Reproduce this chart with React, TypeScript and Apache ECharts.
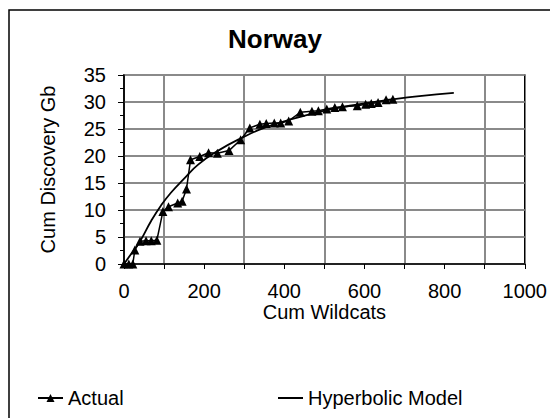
import React, { useEffect, useRef } from "react";
import * as echarts from "echarts";

const actualX = [0, 12, 22, 27, 40, 55, 68, 82, 97, 111, 134, 145, 156, 166, 189, 211, 233, 262, 291, 314, 339, 355, 375, 391, 411, 440, 469, 485, 506, 526, 545, 582, 603, 617, 634, 654, 671];
const actualY = [0, 0, 0, 2.6, 4.2, 4.3, 4.3, 4.4, 9.7, 10.6, 11.3, 11.6, 13.9, 19.3, 19.9, 20.6, 20.5, 21.0, 23.0, 25.2, 25.9, 26.0, 26.1, 26.1, 26.5, 28.1, 28.3, 28.4, 28.7, 29.0, 29.1, 29.3, 29.6, 29.7, 29.9, 30.4, 30.5];

const modelX = [0, 20, 40, 68, 92, 117, 150, 185, 233, 295, 353, 423, 506, 588, 671, 737, 823];
const modelY = [0, 2.1, 4.2, 8.0, 10.8, 13.2, 15.8, 18.4, 20.9, 23.4, 25.3, 26.9, 28.5, 29.6, 30.5, 31.1, 31.7];

const FONT = "'Liberation Sans', Arial, sans-serif";

export default function App() {
  const ref = useRef<HTMLDivElement>(null);
  useEffect(() => {
    document.body.style.margin = "0";
    const chart = echarts.init(ref.current!, null, { renderer: "svg" });
    const actualData = actualX.map((x, i) => [x, actualY[i]]);
    const modelData = modelX.map((x, i) => [x, modelY[i]]);
    chart.setOption({
      animation: false,
      backgroundColor: "#fff",
      textStyle: { fontFamily: FONT, color: "#000" },
      title: {
        text: "Norway",
        left: 270,
        top: 21,
        textAlign: "center",
        textStyle: { fontFamily: FONT, fontSize: 26, fontWeight: "bold", color: "#000" },
      },
      graphic: [
        {
          type: "rect",
          shape: { x: 9, y: 10, width: 600, height: 500 },
          style: { fill: "none", stroke: "#000", lineWidth: 1.5 },
          silent: true,
        },
      ],
      legend: [
        {
          data: ["Actual"],
          left: 32,
          top: 383,
          itemWidth: 25,
          itemHeight: 10,
          itemGap: 6,
          textStyle: { fontFamily: FONT, fontSize: 20, color: "#000" },
        },
        {
          data: [{ name: "Hyperbolic Model", icon: "rect" }],
          left: 273,
          top: 383,
          itemWidth: 25,
          itemHeight: 2,
          textStyle: { fontFamily: FONT, fontSize: 20, color: "#000" },
        },
      ],
      grid: {
        left: 124,
        right: 22,
        top: 75,
        bottom: 154,
        show: true,
        borderColor: "#000",
        borderWidth: 1.5,
        containLabel: false,
      },
      xAxis: {
        type: "value",
        min: 0,
        max: 1000,
        interval: 200,
        name: "Cum Wildcats",
        nameLocation: "middle",
        nameGap: 38,
        nameTextStyle: { fontFamily: FONT, fontSize: 20, color: "#000" },
        axisLine: { show: true, onZero: false, lineStyle: { color: "#000", width: 1.5 } },
        axisTick: { show: true, length: 5, lineStyle: { color: "#000" } },
        minorTick: { show: true, splitNumber: 2, length: 5, lineStyle: { color: "#000" } },
        minorSplitLine: { show: true, lineStyle: { color: "#8a8a8a", width: 2 } },
        splitLine: { show: false },
        axisLabel: {
          fontFamily: FONT,
          fontSize: 20,
          color: "#000",
          margin: 17,
          formatter: (v: number) => String(v),
        },
      },
      yAxis: {
        type: "value",
        min: 0,
        max: 35,
        interval: 5,
        name: "Cum Discovery Gb",
        nameLocation: "middle",
        nameGap: 66,
        nameTextStyle: { fontFamily: FONT, fontSize: 20, color: "#000" },
        axisLine: { show: true, lineStyle: { color: "#000", width: 1.5 } },
        axisTick: { show: true, length: 6, lineStyle: { color: "#000" } },
        minorTick: { show: true, splitNumber: 2, length: 4, lineStyle: { color: "#000" } },
        splitLine: { show: true, lineStyle: { color: "#8a8a8a", width: 2 } },
        axisLabel: { fontFamily: FONT, fontSize: 20, color: "#000", margin: 18 },
      },
      series: [
        {
          name: "Actual",
          type: "line",
          data: actualData,
          symbol: "triangle",
          symbolSize: 9,
          showSymbol: true,
          itemStyle: { color: "#000" },
          lineStyle: { color: "#000", width: 1.5 },
          z: 3,
        },
        {
          name: "Hyperbolic Model",
          type: "line",
          data: modelData,
          smooth: true,
          symbol: "none",
          showSymbol: false,
          itemStyle: { color: "#000" },
          lineStyle: { color: "#000", width: 1.8 },
          z: 2,
        },
      ],
    });
    return () => chart.dispose();
  }, []);
  return <div ref={ref} style={{ width: 550, height: 418 }} />;
}
